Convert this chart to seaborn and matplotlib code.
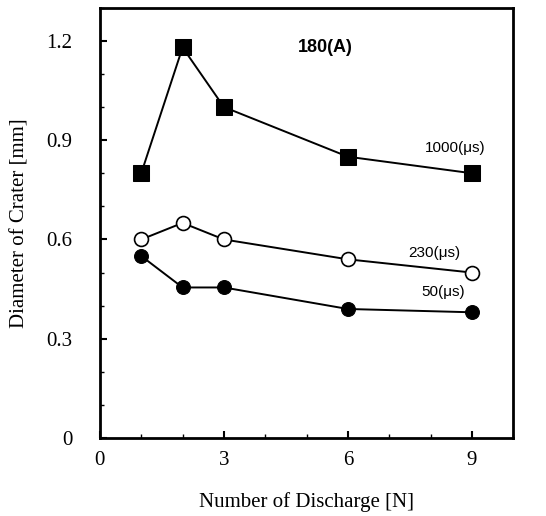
import matplotlib
matplotlib.use("Agg")
import matplotlib.pyplot as plt
import seaborn as sns
from matplotlib.ticker import MultipleLocator

# data
discharges = [1, 2, 3, 6, 9]
d_1000us = [0.80, 1.18, 1.00, 0.85, 0.80]
d_230us = [0.60, 0.65, 0.60, 0.54, 0.50]
d_50us = [0.55, 0.455, 0.455, 0.39, 0.38]
series_labels = ['1000(\u03bcs)', '230(\u03bcs)', '50(\u03bcs)']
current_label = '180(A)'

sns.set_style('ticks')
plt.rcParams['font.family'] = ['Liberation Serif', 'DejaVu Serif']
plt.rcParams['text.color'] = 'black'
plt.rcParams['axes.labelcolor'] = 'black'
plt.rcParams['xtick.color'] = 'black'
plt.rcParams['ytick.color'] = 'black'

fig = plt.figure(figsize=(5.46, 5.16), dpi=100)
ax = fig.add_axes([0.183, 0.151, 0.757, 0.834])

sns.lineplot(x=discharges, y=d_1000us, ax=ax, color='black', lw=1.4,
             marker='s', markersize=11, markerfacecolor='black', markeredgecolor='black')
sns.lineplot(x=discharges, y=d_230us, ax=ax, color='black', lw=1.4,
             marker='o', markersize=10, markerfacecolor='white', markeredgecolor='black',
             markeredgewidth=1.2)
sns.lineplot(x=discharges, y=d_50us, ax=ax, color='black', lw=1.4,
             marker='o', markersize=10, markerfacecolor='black', markeredgecolor='black')

ax.set_xlim(0, 10)
ax.set_ylim(0, 1.3)
ax.set_xticks([0, 3, 6, 9])
ax.set_yticks([0, 0.3, 0.6, 0.9, 1.2])
ax.set_yticklabels(['0', '0.3', '0.6', '0.9', '1.2'])
ax.xaxis.set_minor_locator(MultipleLocator(1))
ax.yaxis.set_minor_locator(MultipleLocator(0.1))
ax.tick_params(which='both', direction='in', labelsize=15, top=False, right=False)
ax.tick_params(which='major', length=5, width=1.5)
ax.tick_params(which='minor', length=3, width=1)
ax.tick_params(axis='x', pad=9)
ax.tick_params(axis='y', pad=20)

for s in ax.spines.values():
    s.set_visible(True)
    s.set_linewidth(2)
    s.set_color('black')

ax.set_xlabel('Number of Discharge [N]', fontsize=15, labelpad=16)
ax.set_ylabel('Diameter of Crater [mm]', fontsize=15, labelpad=12)

sans = ['Liberation Sans', 'DejaVu Sans']
ax.text(5.45, 1.18, current_label, fontsize=13, fontweight='bold', family=sans,
        color='black', ha='center', va='center')
ax.text(8.6, 0.875, series_labels[0], fontsize=11, family=sans, color='black',
        ha='center', va='center')
ax.text(8.1, 0.56, series_labels[1], fontsize=11, family=sans, color='black',
        ha='center', va='center')
ax.text(8.3, 0.44, series_labels[2], fontsize=11, family=sans, color='black',
        ha='center', va='center')

fig.savefig('out.png', dpi=100)
